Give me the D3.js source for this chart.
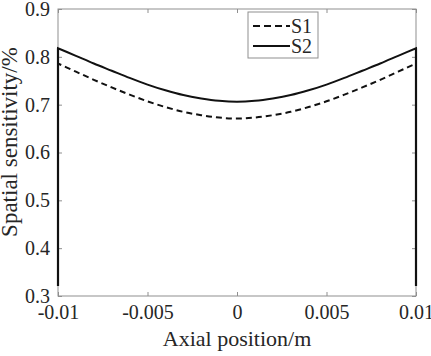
<!DOCTYPE html>
<html>
<head>
<meta charset="utf-8">
<script src="https://cdn.jsdelivr.net/npm/d3@7"></script>
<style>
  body { margin: 0; background: #fff; }
</style>
</head>
<body>
<svg width="431" height="356"></svg>
<script>
// axial position (m) and the two sensitivity curves
var axial = [-0.01, -0.009, -0.008, -0.007, -0.006, -0.005, -0.004, -0.003, -0.002, -0.001,
             0, 0.001, 0.002, 0.003, 0.004, 0.005, 0.006, 0.007, 0.008, 0.009, 0.01];
var s1 = [0.786, 0.769, 0.752, 0.736, 0.721, 0.707, 0.695, 0.685, 0.678, 0.673,
          0.671, 0.673, 0.678, 0.685, 0.695, 0.707, 0.721, 0.736, 0.752, 0.769, 0.786];
var s2 = [0.818, 0.802, 0.786, 0.771, 0.756, 0.742, 0.730, 0.720, 0.713, 0.708,
          0.706, 0.708, 0.713, 0.720, 0.730, 0.742, 0.756, 0.771, 0.786, 0.802, 0.818];
// both curves drop to this value right at the two ends
var edgeValue = 0.321;

var xTicks = [-0.01, -0.005, 0, 0.005, 0.01];
var xTickLabels = ["-0.01", "-0.005", "0", "0.005", "0.01"];
var yTicks = [0.3, 0.4, 0.5, 0.6, 0.7, 0.8, 0.9];
var yTickLabels = ["0.3", "0.4", "0.5", "0.6", "0.7", "0.8", "0.9"];

var series = [
  { name: "S1", values: s1, dash: "6,4" },
  { name: "S2", values: s2, dash: null }
];

var serif = "Liberation Serif";
var textColor = "#262626";

var svg = d3.select("svg");
var margin = { left: 58, right: 15, top: 9, bottom: 60 };
var width = +svg.attr("width");
var height = +svg.attr("height");

var x = d3.scaleLinear().domain([-0.01, 0.01]).range([margin.left, width - margin.right]);
var y = d3.scaleLinear().domain([0.3, 0.9]).range([height - margin.bottom, margin.top]);

var axisColor = "#8f8f8f";
var fs = 20;

// box
svg.append("rect")
  .attr("x", x(-0.01)).attr("y", y(0.9))
  .attr("width", x(0.01) - x(-0.01)).attr("height", y(0.3) - y(0.9))
  .attr("fill", "none").attr("stroke", axisColor).attr("stroke-width", 1);

// x axis ticks (bottom and top, inward)
var xAxis = d3.axisBottom(x).tickValues(xTicks).tickSize(-4).tickPadding(9)
  .tickFormat(function(d, i) { return xTickLabels[i]; });
var gx = svg.append("g").attr("transform", "translate(0," + y(0.3) + ")").call(xAxis);
gx.select(".domain").remove();
gx.selectAll("line").attr("stroke", axisColor);

var gxt = svg.append("g").attr("transform", "translate(0," + y(0.9) + ")")
  .call(d3.axisTop(x).tickValues(xTicks).tickSize(-4).tickFormat(""));
gxt.select(".domain").remove();
gxt.selectAll("line").attr("stroke", axisColor);

// y axis ticks (left and right, inward)
var yAxis = d3.axisLeft(y).tickValues(yTicks).tickSize(-4).tickPadding(8)
  .tickFormat(function(d, i) { return yTickLabels[i]; });
var gy = svg.append("g").attr("transform", "translate(" + x(-0.01) + ",0)").call(yAxis);
gy.select(".domain").remove();
gy.selectAll("line").attr("stroke", axisColor);

var gyr = svg.append("g").attr("transform", "translate(" + x(0.01) + ",0)")
  .call(d3.axisRight(y).tickValues(yTicks).tickSize(-4).tickFormat(""));
gyr.select(".domain").remove();
gyr.selectAll("line").attr("stroke", axisColor);

[gx, gy].forEach(function(g) {
  g.selectAll("text")
    .style("font-family", serif)
    .style("font-size", fs + "px")
    .attr("fill", textColor);
});

// curves
var curve = d3.line()
  .x(function(d) { return x(d[0]); })
  .y(function(d) { return y(d[1]); })
  .curve(d3.curveMonotoneX);

series.forEach(function(s) {
  var pts = axial.map(function(a, i) { return [a, s.values[i]]; });
  var first = pts[0], last = pts[pts.length - 1];
  var d = "M" + x(first[0]) + "," + y(edgeValue) +
          curve(pts).replace(/^M/, "L") +
          "L" + x(last[0]) + "," + y(edgeValue);
  svg.append("path")
    .attr("d", d)
    .attr("fill", "none")
    .attr("stroke", "#111")
    .attr("stroke-width", 2)
    .attr("stroke-dasharray", s.dash);
});

// solid vertical ends drawn on top (both curves overlap there)
[[-0.01, 0], [0.01, axial.length - 1]].forEach(function(e) {
  svg.append("line")
    .attr("x1", x(e[0])).attr("x2", x(e[0]))
    .attr("y1", y(edgeValue)).attr("y2", y(s2[e[1]]))
    .attr("stroke", "#111").attr("stroke-width", 2.2);
});

// legend
var lg = svg.append("g").attr("transform", "translate(248,12)");
lg.append("rect").attr("width", 70).attr("height", 46)
  .attr("fill", "#fff").attr("stroke", axisColor).attr("stroke-width", 1);
series.forEach(function(s, i) {
  var yy = 14 + i * 20;
  lg.append("line").attr("x1", 5).attr("x2", 42).attr("y1", yy).attr("y2", yy)
    .attr("stroke", "#111").attr("stroke-width", 2).attr("stroke-dasharray", s.dash ? "7,4" : null);
  lg.append("text").attr("x", 43).attr("y", yy).attr("dy", "0.35em")
    .style("font-family", serif).style("font-size", fs + "px")
    .attr("fill", textColor).text(s.name);
});

// axis titles
svg.append("text")
  .attr("x", (x(-0.01) + x(0.01)) / 2).attr("y", 346)
  .attr("text-anchor", "middle")
  .style("font-family", serif).style("font-size", "22px")
  .attr("fill", textColor)
  .text("Axial position/m");

svg.append("text")
  .attr("transform", "translate(17," + 142 + ") rotate(-90)")
  .attr("text-anchor", "middle")
  .style("font-family", serif).style("font-size", "23px")
  .attr("fill", textColor)
  .text("Spatial sensitivity/%");
</script>
</body>
</html>
